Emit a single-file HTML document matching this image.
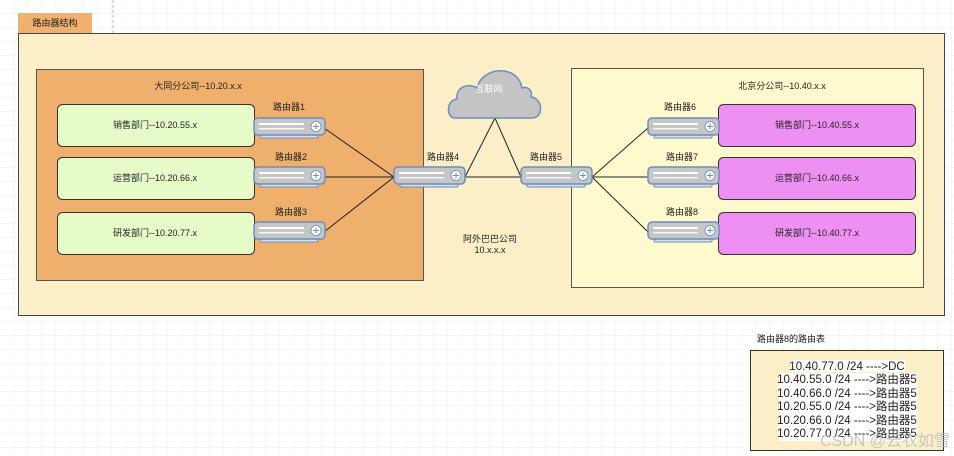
<!DOCTYPE html>
<html><head><meta charset="utf-8"><style>
html,body{margin:0;padding:0;width:954px;height:456px;overflow:hidden;background:#fff}
svg{display:block}
text{font-family:"Liberation Sans","Noto Sans CJK SC",sans-serif;font-size:9px;fill:#222}
</style></head><body>
<svg width="954" height="456" viewBox="0 0 954 456" xmlns="http://www.w3.org/2000/svg">
<defs>
<pattern id="g" width="14" height="14" patternUnits="userSpaceOnUse"><path d="M14 0V14H0" fill="none" stroke="#ececec" stroke-width="1"/></pattern>
<g id="r">
<rect x="6" y="15" width="58" height="5" rx="1" fill="#d8dde8" stroke="#6c8ebf" stroke-width="1"/>
<rect x="0" y="0" width="71" height="17" rx="4" fill="#c6c6c6" stroke="#6c8ebf" stroke-width="1.5"/>
<g fill="#fff"><rect x="5" y="5" width="45" height="2"/><rect x="5" y="10" width="45" height="1.5" opacity=".8"/></g>
<circle cx="62" cy="8.5" r="5" fill="#fff" stroke="#6c8ebf" stroke-width="0.8"/>
<path d="M59 8.5h6M62 5.5v6" stroke="#6c8ebf" stroke-width="1"/>
</g>
</defs>
<rect width="954" height="456" fill="url(#g)"/>
<line x1="113" y1="0" x2="113" y2="33" stroke="#bbb" stroke-dasharray="3,2"/>
<rect x="18" y="13" width="74" height="20" fill="#f0b070"/>
<text x="55" y="26" text-anchor="middle">路由器结构</text>
<rect x="18.5" y="33.5" width="926" height="282" fill="#fcefc8" stroke="#444"/>
<rect x="36.5" y="69.5" width="387" height="211" fill="#eeb06c" stroke="#555"/>
<text x="198" y="89" text-anchor="middle">大同分公司--10.20.x.x</text>
<rect x="571.5" y="68.5" width="352" height="219" fill="#fffacd" stroke="#555"/>
<text x="782" y="89" text-anchor="middle">北京分公司--10.40.x.x</text>
<g fill="#e6fbc8" stroke="#333">
<rect x="57.5" y="104.5" width="197" height="42" rx="5"/>
<rect x="57.5" y="157.5" width="197" height="42" rx="5"/>
<rect x="57.5" y="212.5" width="197" height="42" rx="5"/>
</g>
<g fill="#ee90f2" stroke="#333">
<rect x="718.5" y="104.5" width="197" height="42" rx="5"/>
<rect x="718.5" y="157.5" width="197" height="42" rx="5"/>
<rect x="718.5" y="212.5" width="197" height="42" rx="5"/>
</g>
<text x="155" y="128" text-anchor="middle">销售部门--10.20.55.x</text>
<text x="155" y="181" text-anchor="middle">运营部门--10.20.66.x</text>
<text x="155" y="236" text-anchor="middle">研发部门--10.20.77.x</text>
<text x="817" y="128" text-anchor="middle">销售部门--10.40.55.x</text>
<text x="817" y="181" text-anchor="middle">运营部门--10.40.66.x</text>
<text x="817" y="236" text-anchor="middle">研发部门--10.40.77.x</text>
<g stroke="#222" stroke-width="1" fill="none">
<path d="M324 128L394 177M324 177H394M324 232L394 177"/>
<path d="M465 177H521M465 177L495 118L521 177"/>
<path d="M592 177L648 128M592 177H648M592 177L648 232"/>
</g>
<path d="M455 118C446 118 446 100 457 99C455 88 468 82 477 88C482 66 518 64 522 88C527 86 533 90 531 97C543 98 544 118 532 118Z" fill="#c4c4c4" stroke="#6c8ebf" stroke-width="1.5"/>
<text x="489" y="92" text-anchor="middle" style="fill:#fff">互联网</text>
<use href="#r" x="254" y="118"/><use href="#r" x="254" y="167"/><use href="#r" x="254" y="222"/>
<use href="#r" x="394" y="167"/><use href="#r" x="521" y="167"/>
<use href="#r" x="648" y="118"/><use href="#r" x="648" y="167"/><use href="#r" x="648" y="222"/>
<text x="289" y="110" text-anchor="middle">路由器1</text>
<text x="291" y="160" text-anchor="middle">路由器2</text>
<text x="291" y="215" text-anchor="middle">路由器3</text>
<text x="443" y="160" text-anchor="middle">路由器4</text>
<text x="546" y="160" text-anchor="middle">路由器5</text>
<text x="680" y="110" text-anchor="middle">路由器6</text>
<text x="682" y="160" text-anchor="middle">路由器7</text>
<text x="682" y="215" text-anchor="middle">路由器8</text>
<text x="490" y="242" text-anchor="middle">阿外巴巴公司</text>
<text x="490" y="253" text-anchor="middle">10.x.x.x</text>
<text x="757" y="342">路由器8的路由表</text>
<rect x="750.5" y="350.5" width="193" height="100" fill="#fcefc8" stroke="#333"/>
<g style="font-size:11.5px">
<rect x="791" y="360" width="114" height="12" fill="#fff"/>
<rect x="779" y="373" width="138" height="68" fill="#fff"/>
<text x="847" y="370" text-anchor="middle" style="font-size:11.5px">10.40.77.0 /24 ----&gt;DC</text>
<text x="847" y="383" text-anchor="middle" style="font-size:11.5px">10.40.55.0 /24 ----&gt;路由器5</text>
<text x="847" y="397" text-anchor="middle" style="font-size:11.5px">10.40.66.0 /24 ----&gt;路由器5</text>
<text x="847" y="410" text-anchor="middle" style="font-size:11.5px">10.20.55.0 /24 ----&gt;路由器5</text>
<text x="847" y="424" text-anchor="middle" style="font-size:11.5px">10.20.66.0 /24 ----&gt;路由器5</text>
<text x="847" y="437" text-anchor="middle" style="font-size:11.5px">10.20.77.0 /24 ----&gt;路由器5</text>
</g>
<text x="885" y="446" text-anchor="middle" style="font-size:16px;fill:#bbb;opacity:.8">CSDN @云衣如雪</text>
</svg>
</body></html>
